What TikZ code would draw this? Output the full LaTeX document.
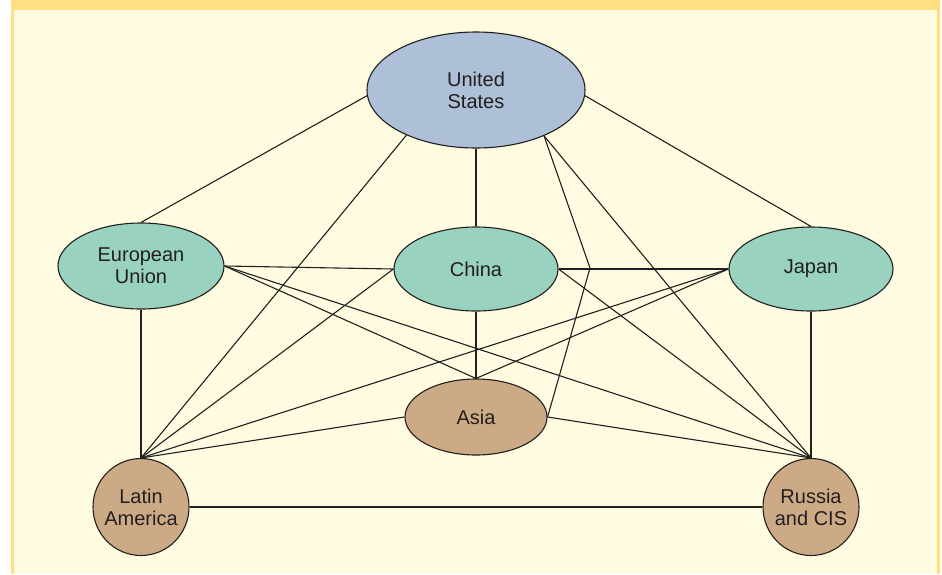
\documentclass[tikz,border=0pt]{standalone}
\usepackage{fontspec}
\setmainfont{Liberation Sans}
\usetikzlibrary{shapes.geometric}
\definecolor{paleyellow}{RGB}{255,251,224}
\definecolor{bandorange}{RGB}{255,223,128}
\definecolor{usblue}{RGB}{173,192,216}
\definecolor{nodegreen}{RGB}{153,211,192}
\definecolor{nodetan}{RGB}{205,170,134}
\definecolor{inkgray}{RGB}{35,31,32}
\tikzset{
  region/.style={ellipse, draw=inkgray, line width=1.1pt, inner sep=0pt},
  regiontext/.style={align=center, text=inkgray, inner sep=0pt,
    font=\fontsize{20}{22}\selectfont},
  link/.style={draw=inkgray, line width=1.1pt},
}
\begin{document}
\begin{tikzpicture}[x=1pt,y=-1pt]
\useasboundingbox (0,0) rectangle (942,574);
\fill[white] (0,0) rectangle (942,574);
\fill[bandorange] (11,0) rectangle (940,574);
\fill[paleyellow] (14,10) rectangle (937,574);

\node[region, fill=usblue, minimum width=218pt, minimum height=116pt,
  label={[regiontext]center:United\\States}] (us) at (476,90) {};
\node[region, fill=nodegreen, minimum width=166pt, minimum height=86pt,
  label={[regiontext]center:European\\Union}] (eu) at (141,266) {};
\node[region, fill=nodegreen, minimum width=164pt, minimum height=84pt,
  label={[regiontext]center:China}] (china) at (476,269) {};
\node[region, fill=nodegreen, minimum width=164pt, minimum height=84pt,
  label={[regiontext]center:Japan}] (japan) at (811,269) {};
\node[region, fill=nodetan, minimum width=142pt, minimum height=76pt,
  label={[regiontext]center:Asia}] (asia) at (476,417) {};
\node[region, fill=nodetan, minimum width=96pt, minimum height=97pt,
  label={[regiontext]center:Latin\\America}] (latam) at (141,507) {};
\node[region, fill=nodetan, minimum width=96pt, minimum height=97pt,
  label={[regiontext]center:Russia\\and CIS}] (russia) at (811,507) {};
\coordinate (bend) at (590,268);

\draw[link] (us.183) -- (eu.north);
\draw[link] (us.357) -- (japan.north);
\draw[link] (us.south) -- (china.north);
\draw[link] (us.213) -- (latam.north);
\draw[link] (us.326) -- (bend) -- (asia.east);
\draw[link] (us.326) -- (russia.north);
\draw[link] (eu.east) -- (china.west);
\draw[link] (eu.east) -- (asia.north);
\draw[link] (eu.east) -- (russia.north);
\draw[link] (eu.south) -- (latam.north);
\draw[link] (china.west) -- (latam.north);
\draw[link] (china.east) -- (japan.west);
\draw[link] (china.east) -- (russia.north);
\draw[link] (china.south) -- (asia.north);
\draw[link] (japan.west) -- (asia.north);
\draw[link] (japan.west) -- (latam.north);
\draw[link] (japan.south) -- (russia.north);
\draw[link] (asia.west) -- (latam.north);
\draw[link] (asia.east) -- (russia.north);
\draw[link] (latam.east) -- (russia.west);
\end{tikzpicture}
\end{document}
